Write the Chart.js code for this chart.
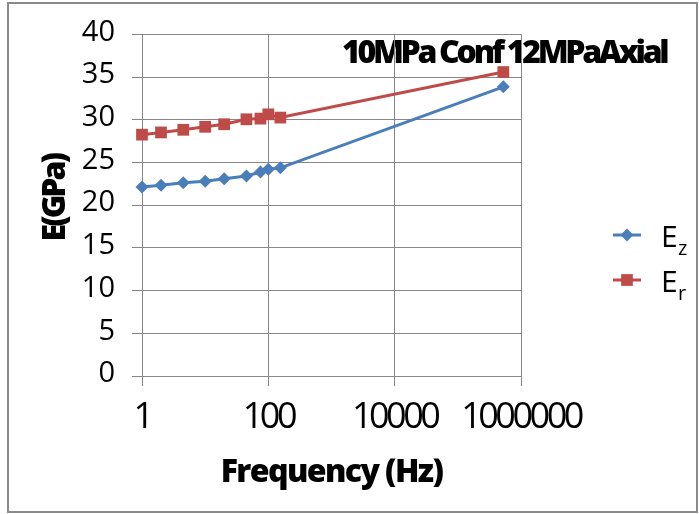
<!DOCTYPE html>
<html>
<head>
<meta charset="utf-8">
<script src="https://cdn.jsdelivr.net/npm/chart.js@4.4.1/dist/chart.umd.min.js"></script>
<style>
html,body{margin:0;padding:0;background:#fff;}
#wrap{position:relative;width:699px;height:514px;}
canvas{display:block;}
</style>
</head>
<body>
<div id="wrap"><canvas id="c" width="699" height="514"></canvas></div>
<script>
// ---- data ----
const frequencies = [1, 2, 4.5, 10, 20, 45, 75, 100, 155, 525000];
const ezValues = [22.14, 22.34, 22.64, 22.80, 23.10, 23.42, 23.88, 24.20, 24.38, 33.86];
const erValues = [28.26, 28.52, 28.83, 29.18, 29.48, 30.06, 30.14, 30.64, 30.26, 35.59];
const xTickValues = [1, 100, 10000, 1000000];
const yTickValues = [0, 5, 10, 15, 20, 25, 30, 35, 40];
const chartTitle = '10MPa Conf 12MPaAxial';
const xAxisTitle = 'Frequency (Hz)';
const yAxisTitle = 'E(GPa)';
const seriesBase = ['E', 'E'];
const seriesSub = ['z', 'r'];

const FONT = '"Open Sans", "Noto Sans", sans-serif';
const GRID = '#878787';

function toPoints(xs, ys) { return xs.map((x, i) => ({ x: x, y: ys[i] })); }

function wrapSpacing(scale, method, spacing, dy) {
  const key = '_wrapped_' + method;
  if (scale[key]) return;
  const orig = scale[method];
  scale[method] = function () {
    const ctx = this.ctx;
    ctx.save();
    ctx.letterSpacing = spacing;
    if (dy) ctx.translate(0, dy);
    orig.apply(this, arguments);
    ctx.restore();
  };
  scale[key] = true;
}

const decor = {
  id: 'decor',
  afterUpdate(chart) {
    wrapSpacing(chart.scales.x, 'drawLabels', '-3.5px', 0);
    wrapSpacing(chart.scales.x, 'drawTitle', '-1.6px', 0);
    wrapSpacing(chart.scales.y, 'drawTitle', '-3px', -7);
    wrapSpacing(chart.scales.y, 'drawLabels', '0px', -2);
  },
  beforeDraw(chart) {
    const ctx = chart.ctx;
    ctx.save();
    ctx.fillStyle = '#fff';
    ctx.fillRect(0, 0, chart.width, chart.height);
    // title
    ctx.font = '800 32px ' + FONT;
    ctx.letterSpacing = '-3.3px';
    ctx.fillStyle = '#000';
    ctx.textAlign = 'left';
    ctx.textBaseline = 'alphabetic';
    ctx.fillText(chartTitle, 342, 63);
    ctx.restore();
  },
  afterDraw(chart) {
    const ctx = chart.ctx;
    ctx.save();
    // outer frame
    ctx.strokeStyle = '#8a8a8a';
    ctx.lineWidth = 2;
    ctx.strokeRect(8, 3, 689, 509);
    // legend
    chart.data.datasets.forEach((ds, i) => {
      const y = 235 + i * 45;
      ctx.strokeStyle = ds.borderColor;
      ctx.lineWidth = 3;
      ctx.beginPath();
      ctx.moveTo(613, y);
      ctx.lineTo(641, y);
      ctx.stroke();
      ctx.fillStyle = ds.backgroundColor;
      Chart.helpers.drawPoint(ctx, {
        pointStyle: ds.pointStyle,
        radius: ds.pointRadius,
        rotation: 0,
        borderWidth: 0
      }, 627, y);
      ctx.fillStyle = '#000';
      ctx.textAlign = 'left';
      ctx.textBaseline = 'alphabetic';
      ctx.letterSpacing = '0px';
      ctx.font = '30px ' + FONT;
      ctx.fillText(seriesBase[i], 661, y + 12);
      ctx.font = '20px ' + FONT;
      ctx.fillText(seriesSub[i], 678, y + 20);
    });
    ctx.restore();
  }
};

new Chart(document.getElementById('c'), {
  type: 'line',
  data: {
    datasets: [
      {
        label: 'Ez',
        data: toPoints(frequencies, ezValues),
        borderColor: '#4A7EBB',
        backgroundColor: '#4A7EBB',
        borderWidth: 3,
        pointStyle: 'rectRot',
        pointRadius: 6.5,
        pointBorderWidth: 0,
        tension: 0,
        clip: false
      },
      {
        label: 'Er',
        data: toPoints(frequencies, erValues),
        borderColor: '#BE4B48',
        backgroundColor: '#BE4B48',
        borderWidth: 3,
        pointStyle: 'rect',
        pointRadius: 8.3,
        pointBorderWidth: 0,
        tension: 0,
        clip: false
      }
    ]
  },
  options: {
    responsive: false,
    animation: false,
    devicePixelRatio: 1,
    events: [],
    layout: { padding: { left: 0, right: 178, top: 31, bottom: 0 } },
    plugins: { legend: { display: false }, tooltip: { enabled: false }, title: { display: false } },
    scales: {
      x: {
        type: 'logarithmic',
        position: 'bottom',
        min: 1,
        max: 1000000,
        afterBuildTicks: (s) => { s.ticks = xTickValues.map(v => ({ value: v })); },
        afterFit: (s) => { s.height = 138; },
        ticks: {
          callback: (v) => String(v),
          font: { family: FONT, size: 36 },
          color: '#000',
          padding: 10,
          maxRotation: 0,
          autoSkip: false
        },
        grid: { color: GRID, lineWidth: 1, tickLength: 10, drawTicks: true },
        border: { color: GRID, width: 1 },
        title: {
          display: true,
          text: xAxisTitle,
          font: { family: FONT, size: 32, weight: '800' },
          color: '#000',
          padding: { top: 0, bottom: 22 }
        }
      },
      y: {
        type: 'linear',
        min: 0,
        max: 40,
        afterBuildTicks: (s) => { s.ticks = yTickValues.map(v => ({ value: v })); },
        afterFit: (s) => { s.width = 142; },
        ticks: {
          font: { family: FONT, size: 29 },
          color: '#000',
          padding: 17
        },
        grid: { color: GRID, lineWidth: 1, tickLength: 10, drawTicks: true },
        border: { color: GRID, width: 1 },
        title: {
          display: true,
          text: yAxisTitle,
          font: { family: FONT, size: 32, weight: '800' },
          color: '#000',
          padding: { top: 37, bottom: 0 }
        }
      }
    }
  },
  plugins: [decor]
});
</script>
</body>
</html>
